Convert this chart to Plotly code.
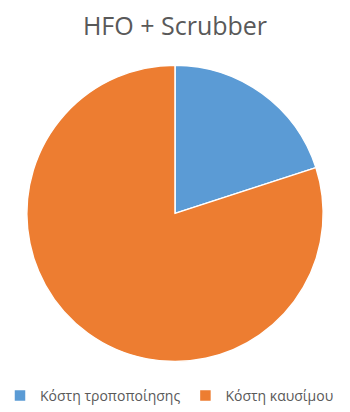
import plotly.graph_objects as go

# Cost breakdown for the HFO + Scrubber option
labels = ["Κόστη τροποποίησης", "Κόστη καυσίμου"]
values = [20, 80]
colors = ["#5B9BD5", "#ED7D31"]

W, H = 350, 412

fig = go.Figure(
    go.Pie(
        labels=labels,
        values=values,
        sort=False,
        direction="clockwise",
        rotation=0,
        textinfo="none",
        hoverinfo="label+percent",
        domain=dict(x=[25 / W, 325 / W], y=[(H - 366) / H, (H - 66) / H]),
        marker=dict(colors=colors, line=dict(color="white", width=1.5)),
    )
)

fig.update_layout(
    width=W,
    height=H,
    paper_bgcolor="white",
    plot_bgcolor="white",
    margin=dict(l=0, r=0, t=0, b=0),
    title=dict(
        text="HFO + Scrubber",
        x=0.5,
        xanchor="center",
        xref="paper",
        y=1 - 26 / H,
        yref="container",
        yanchor="middle",
        font=dict(family="Open Sans", size=25, color="#595959"),
    ),
    legend=dict(
        orientation="h",
        x=0,
        xanchor="left",
        y=(H - 401) / H,
        yanchor="middle",
        font=dict(family="Open Sans", size=14, color="#595959"),
        traceorder="normal",
        bgcolor="rgba(0,0,0,0)",
    ),
)

fig.write_html("out.html")
